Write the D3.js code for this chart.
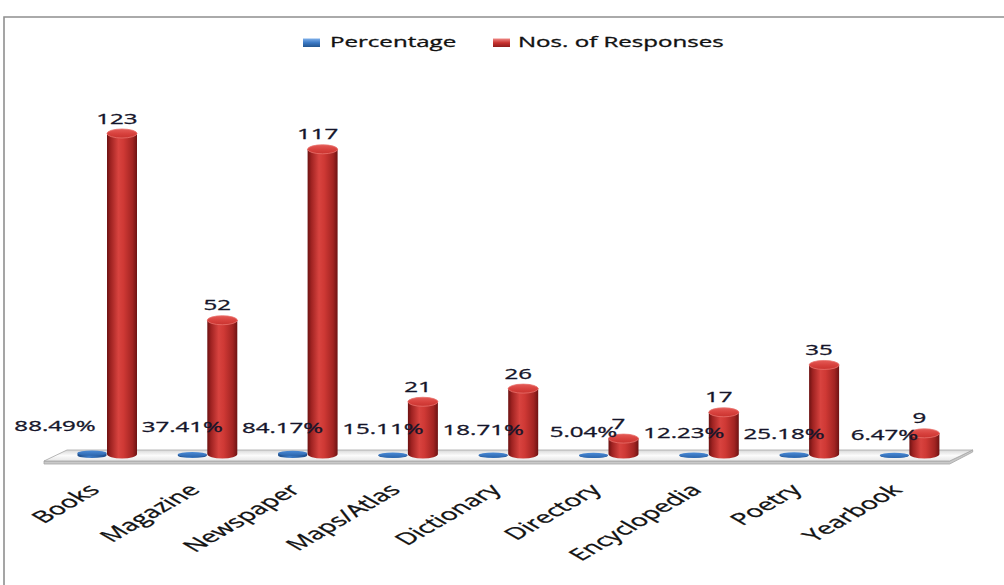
<!DOCTYPE html>
<html><head><meta charset="utf-8">
<script src="https://cdn.jsdelivr.net/npm/d3@7"></script>
<style>body{margin:0;background:#fff}svg{display:block}</style>
</head><body><svg id="c" width="1004" height="585"></svg>
<script>
// ---- data ----
const categories = ["Books","Magazine","Newspaper","Maps/Atlas","Dictionary","Directory","Encyclopedia","Poetry","Yearbook"];
const percentage = [0.8849,0.3741,0.8417,0.1511,0.1871,0.0504,0.1223,0.2518,0.0647];
const responses  = [123,52,117,21,26,7,17,35,9];
const seriesNames = ["Percentage","Nos. of Responses"];

// ---- setup ----
const svg = d3.select("#c");
const S = 1.72;               // horizontal stretch of the original picture
const FONT = "'Open Sans', 'Noto Sans', sans-serif";
const defs = svg.append("defs");

function lin(id, stops, horiz=true){
  const g = defs.append("linearGradient").attr("id", id)
    .attr("x1","0").attr("y1","0").attr("x2", horiz?"1":"0").attr("y2", horiz?"0":"1");
  stops.forEach(([o,c]) => g.append("stop").attr("offset",o).attr("stop-color",c));
}
lin("redBody", [[0,"#6c1212"],[0.12,"#9e2221"],[0.38,"#d8433f"],[0.55,"#cf3935"],[0.85,"#a22422"],[1,"#6e1313"]]);
lin("redTop",  [[0,"#e35a56"],[0.5,"#d8423e"],[1,"#c9332f"]], false);
lin("blueBody",[[0,"#1c4b86"],[0.4,"#3d7cc8"],[1,"#1d4d8a"]]);
lin("blueTop", [[0,"#4a8ad6"],[1,"#2c66ad"]], false);
lin("floorTop",[[0,"#d9d9d9"],[0.5,"#fbfbfb"],[1,"#e6e6e6"]], false);
lin("legBlue", [[0,"#7fb0ea"],[0.5,"#3a78c4"],[1,"#23558f"]], false);
lin("legRed",  [[0,"#ef8a86"],[0.5,"#c8322f"],[1,"#8f1c1b"]], false);

// frame
svg.append("path").attr("d","M4,585 L4,17 L1004,17").attr("fill","none")
  .attr("stroke","#8f8f8f").attr("stroke-width",1.6);

// scales
const x = d3.scaleBand().domain(categories).range([48, 48 + 9*100.3]).padding(0);
const xs = d3.scaleBand().domain(seriesNames).range([29, 89]);
const y = d3.scaleLinear().domain([0, 140]).range([457, 457 - 140*2.63]);
const floorY = 454;

// floor slab
const fl = x.range()[0] - 4, fr = x.range()[1] - 1, fy = 461, dx = 23, dy = -11;
svg.append("path")
  .attr("d", `M${fl},${fy} L${fr},${fy} L${fr+dx},${fy+dy} L${fr+dx},${fy+dy+2} L${fr},${fy+3} L${fl},${fy+3} Z`)
  .attr("fill","#c9c9c9").attr("stroke","#a6a6a6").attr("stroke-width",0.8);
svg.append("path")
  .attr("d", `M${fl},${fy} L${fl+dx},${fy+dy} L${fr+dx},${fy+dy} L${fr},${fy} Z`)
  .attr("fill","url(#floorTop)").attr("stroke","#a6a6a6").attr("stroke-width",0.8);

function cyl(g, cx, r, yb, yt, ry, body, top){
  g.append("path")
    .attr("d", `M${cx-r},${yb} L${cx-r},${yt} L${cx+r},${yt} L${cx+r},${yb} A${r},${ry} 0 0 1 ${cx-r},${yb} Z`)
    .attr("fill", body);
  g.append("ellipse").attr("cx",cx).attr("cy",yt).attr("rx",r).attr("ry",ry)
    .attr("fill", top).attr("stroke","#e8716c").attr("stroke-width", top.includes("red")?0.8:0);
}

const r = xs.bandwidth()/2;
const bars = svg.append("g");
categories.forEach((c,i) => {
  const g = bars.append("g");
  const bx = x(c) + xs("Percentage") + r;
  const bh = y(0) - y(percentage[i]);
  cyl(g, bx, r - 0.5, floorY + 1.5, floorY + 1.5 - bh, 2.6, "url(#blueBody)", "url(#blueTop)");
  const rx = x(c) + xs("Nos. of Responses") + r;
  cyl(g, rx, r, floorY, y(responses[i]), 4.5, "url(#redBody)", "url(#redTop)");
});

function stext(g, px, py, txt, size, anchor, rot, fill){
  const f = fill || "#15152a";
  return g.append("text")
    .attr("transform", `translate(${px},${py}) scale(${S},1)` + (rot ? ` rotate(${rot})` : ""))
    .attr("font-family", FONT).attr("font-size", size)
    .attr("text-anchor", anchor).attr("fill", f)
    .attr("stroke", f).attr("stroke-width", 0.3).text(txt);
}

// data labels
const labels = svg.append("g");
const pf = d3.format(".2%");
categories.forEach((c,i) => {
  const rx = x(c) + xs("Nos. of Responses") + r;
  stext(labels, rx - 5, y(responses[i]) - 10, responses[i], 14, "middle");
  const bx = x(c) + xs("Percentage") + r;
  const off = i === 0 ? -37 : -10;
  stext(labels, bx + off, 431 + i*1.1, pf(percentage[i]), 14, "middle");
});

// category labels
const cats = svg.append("g");
categories.forEach((c,i) => {
  const bx = x(c) + xs("Percentage") + r;
  stext(cats, bx + 9, 491, c, 16.5, "end", -45, "#111");
});

// legend
const leg = svg.append("g");
leg.append("rect").attr("x",303).attr("y",38.5).attr("width",17).attr("height",8.5).attr("fill","url(#legBlue)");
stext(leg, 330, 47, seriesNames[0], 14, "start", 0, "#111");
leg.append("rect").attr("x",493).attr("y",38.5).attr("width",17).attr("height",8.5).attr("fill","url(#legRed)");
stext(leg, 518, 47, seriesNames[1], 14, "start", 0, "#111");
</script></body></html>
